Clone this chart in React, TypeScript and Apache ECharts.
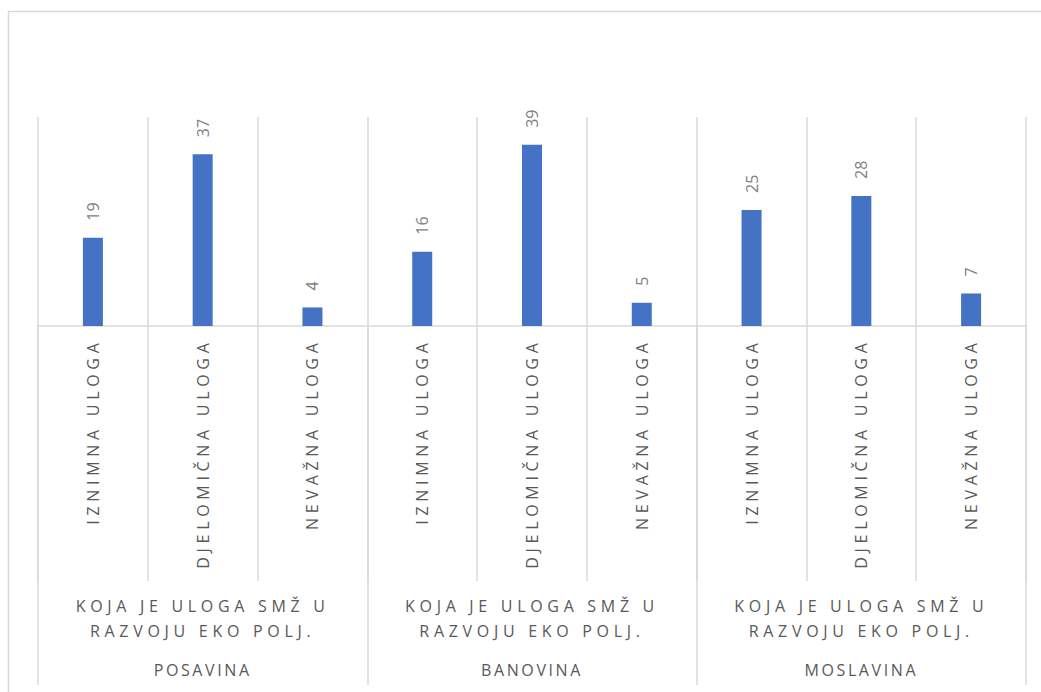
import React, { useEffect, useRef } from "react";
import * as echarts from "echarts";

const categories = [
  "IZNIMNA ULOGA", "DJELOMIČNA ULOGA", "NEVAŽNA ULOGA",
  "IZNIMNA ULOGA", "DJELOMIČNA ULOGA", "NEVAŽNA ULOGA",
  "IZNIMNA ULOGA", "DJELOMIČNA ULOGA", "NEVAŽNA ULOGA",
];
const values = [19, 37, 4, 16, 39, 5, 25, 28, 7];
const questionLabels = [
  "KOJA JE ULOGA SMŽ U\nRAZVOJU EKO POLJ.",
  "KOJA JE ULOGA SMŽ U\nRAZVOJU EKO POLJ.",
  "KOJA JE ULOGA SMŽ U\nRAZVOJU EKO POLJ.",
];
const regions = ["POSAVINA", "BANOVINA", "MOSLAVINA"];

const FONT = "'Open Sans', sans-serif";
const GRID = { left: 38, right: 15, top: 117, bottom: 366 };
const LINE = "#d9d9d9";

const spacingFor = (txt: string): string | null => {
  if (categories.includes(txt)) return "4.7px";
  if (questionLabels.some((q) => q.split("\n").includes(txt))) return "4.7px";
  if (regions.includes(txt)) return "2.6px";
  return null;
};

export default function App() {
  const ref = useRef<HTMLDivElement>(null);
  useEffect(() => {
    document.body.style.margin = "0";
    const chart = echarts.init(ref.current!, null, { renderer: "svg" });
    const applySpacing = () => {
      const root = ref.current;
      if (!root) return;
      root.querySelectorAll("text").forEach((t) => {
        const sp = spacingFor((t.textContent || "").trim());
        if (sp) (t as SVGTextElement).style.letterSpacing = sp;
      });
    };
    chart.setOption({
      animation: false,
      backgroundColor: "#ffffff",
      grid: [GRID, GRID, GRID],
      graphic: [
        {
          type: "rect",
          shape: { x: 8.5, y: 11.5, width: 1100, height: 800 },
          style: { fill: "none", stroke: LINE, lineWidth: 1.5 },
          z: -1,
        },
      ],
      xAxis: [
        {
          type: "category",
          gridIndex: 0,
          data: categories,
          axisLine: { show: true, lineStyle: { color: LINE, width: 1.5 } },
          axisTick: { show: true, length: 255, lineStyle: { color: LINE, width: 1.5 } },
          splitLine: { show: true, lineStyle: { color: LINE, width: 1.5 } },
          axisLabel: {
            rotate: 90,
            margin: 12.5,
            color: "#595959",
            fontSize: 16,
            fontFamily: FONT,
            interval: 0,
          },
        },
        {
          type: "category",
          gridIndex: 1,
          data: questionLabels,
          axisLine: { show: false },
          axisTick: { show: true, length: 359, lineStyle: { color: LINE, width: 1.5 } },
          splitLine: { show: false },
          axisLabel: {
            margin: 267,
            color: "#595959",
            fontSize: 16,
            lineHeight: 25,
            fontFamily: FONT,
            interval: 0,
          },
        },
        {
          type: "category",
          gridIndex: 2,
          data: regions,
          axisLine: { show: false },
          axisTick: { show: false },
          splitLine: { show: false },
          axisLabel: {
            margin: 334,
            color: "#595959",
            fontSize: 16,
            lineHeight: 20,
            fontFamily: FONT,
            interval: 0,
          },
        },
      ],
      yAxis: [
        { type: "value", gridIndex: 0, min: 0, max: 45, show: false },
        { type: "value", gridIndex: 1, min: 0, max: 45, show: false },
        { type: "value", gridIndex: 2, min: 0, max: 45, show: false },
      ],
      series: [
        {
          type: "bar",
          xAxisIndex: 0,
          yAxisIndex: 0,
          data: values,
          barWidth: 20,
          itemStyle: { color: "#4472c4" },
          label: {
            show: true,
            position: "top",
            rotate: 90,
            align: "left",
            verticalAlign: "middle",
            distance: 17,
            color: "#7f7f7f",
            fontSize: 16,
            fontFamily: FONT,
          },
        },
      ],
    });
    applySpacing();
    chart.on("finished", applySpacing);
    const raf = requestAnimationFrame(applySpacing);
    const tm = setTimeout(applySpacing, 50);
    return () => {
      cancelAnimationFrame(raf);
      clearTimeout(tm);
      chart.dispose();
    };
  }, []);
  return <div ref={ref} style={{ width: 1041, height: 692 }} />;
}
